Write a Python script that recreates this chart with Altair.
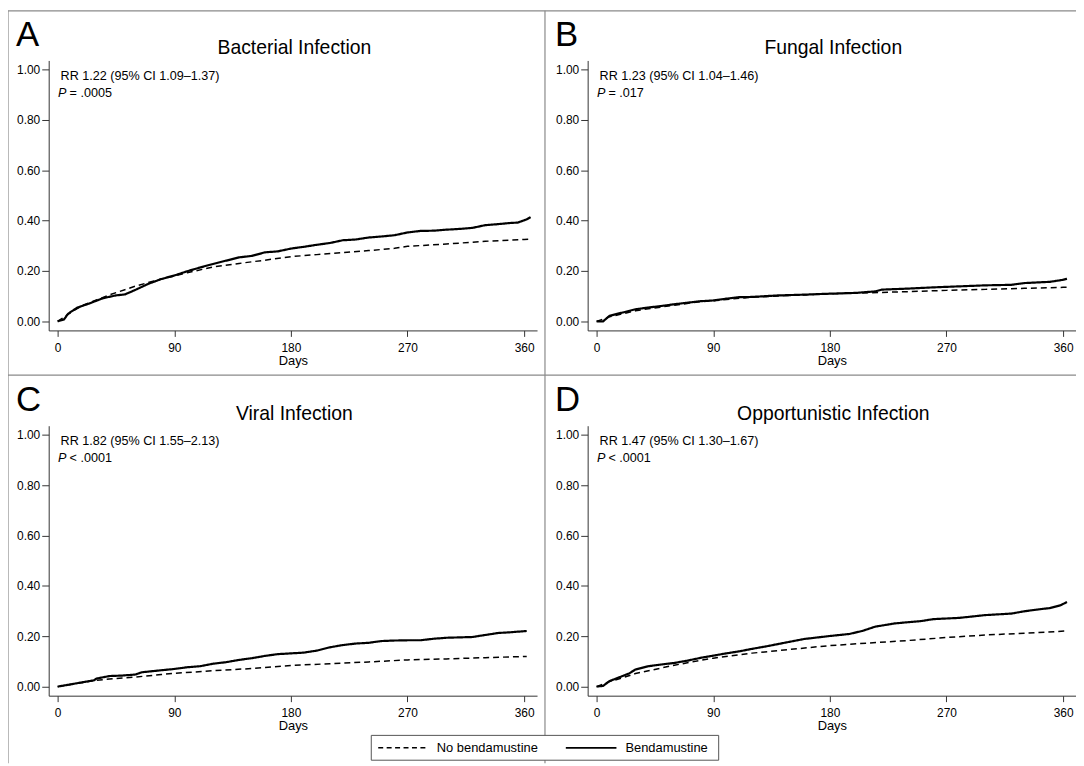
import altair as alt
import pandas as pd

FONT = "Liberation Sans"

# ---------------- data ----------------
panels = ["A", "B", "C", "D"]
letters = ["A", "B", "C", "D"]
titles = ["Bacterial Infection", "Fungal Infection", "Viral Infection", "Opportunistic Infection"]
rr_texts = ["RR 1.22 (95% CI 1.09\u20131.37)", "RR 1.23 (95% CI 1.04\u20131.46)",
            "RR 1.82 (95% CI 1.55\u20132.13)", "RR 1.47 (95% CI 1.30\u20131.67)"]
p_texts = ["= .0005", "= .017", "< .0001", "< .0001"]
groups = ["No bendamustine", "Bendamustine"]

# Bacterial
A_bend_days = [0, 5, 8, 15, 25, 35, 45, 52, 60, 70, 80, 90, 100, 110, 120, 130, 140, 150, 160, 170, 180,
               190, 200, 210, 220, 230, 240, 250, 260, 270, 280, 290, 300, 310, 320, 330, 340, 350, 355, 362, 365]
A_bend_vals = [0, 0.008, 0.03, 0.054, 0.072, 0.092, 0.103, 0.107, 0.125, 0.149, 0.168, 0.182, 0.199, 0.214,
               0.228, 0.241, 0.254, 0.26, 0.274, 0.278, 0.289, 0.296, 0.304, 0.311, 0.322, 0.325, 0.333,
               0.337, 0.342, 0.353, 0.359, 0.36, 0.364, 0.367, 0.371, 0.382, 0.386, 0.391, 0.392, 0.405, 0.414]
A_nob_days = [0, 10, 20, 30, 40, 60, 80, 90, 100, 120, 140, 160, 180, 200, 220, 240, 260, 270, 300, 330, 360, 365]
A_nob_vals = [0, 0.035, 0.065, 0.085, 0.105, 0.14, 0.168, 0.18, 0.193, 0.216, 0.23, 0.243, 0.257, 0.265,
              0.273, 0.281, 0.29, 0.298, 0.307, 0.318, 0.325, 0.327]

# Fungal
B_bend_days = [0, 5, 10, 20, 30, 40, 50, 60, 70, 80, 90, 100, 110, 120, 140, 160, 180, 200, 215, 220, 240,
               260, 280, 300, 320, 330, 350, 360, 363]
B_bend_vals = [0, 0.0, 0.022, 0.035, 0.048, 0.055, 0.061, 0.068, 0.074, 0.08, 0.083, 0.09, 0.096, 0.097,
               0.103, 0.106, 0.11, 0.113, 0.119, 0.126, 0.13, 0.135, 0.139, 0.143, 0.145, 0.152, 0.157,
               0.165, 0.169]
B_nob_days = [0, 10, 20, 30, 40, 60, 80, 90, 120, 150, 180, 200, 220, 240, 270, 300, 330, 360, 365]
B_nob_vals = [0, 0.018, 0.03, 0.042, 0.05, 0.064, 0.078, 0.082, 0.096, 0.103, 0.109, 0.112, 0.115, 0.118,
              0.123, 0.127, 0.131, 0.135, 0.136]

# Viral
C_bend_days = [0, 10, 20, 28, 30, 40, 50, 60, 65, 80, 90, 100, 110, 120, 130, 140, 150, 160, 170, 180, 190,
               200, 210, 220, 230, 240, 250, 260, 270, 280, 290, 300, 320, 330, 340, 350, 362]
C_bend_vals = [0, 0.009, 0.018, 0.025, 0.032, 0.042, 0.044, 0.048, 0.057, 0.065, 0.07, 0.077, 0.081,
               0.091, 0.097, 0.106, 0.113, 0.122, 0.129, 0.132, 0.135, 0.143, 0.156, 0.165, 0.171, 0.174,
               0.181, 0.183, 0.184, 0.184, 0.19, 0.194, 0.197, 0.205, 0.213, 0.216, 0.221]
C_nob_days = [0, 20, 30, 40, 60, 80, 90, 120, 150, 180, 210, 240, 270, 300, 330, 362]
C_nob_vals = [0, 0.017, 0.025, 0.03, 0.038, 0.048, 0.053, 0.063, 0.072, 0.084, 0.091, 0.098, 0.106, 0.11,
              0.115, 0.12]

# Opportunistic
D_bend_days = [0, 5, 10, 20, 25, 30, 40, 50, 60, 70, 80, 90, 100, 110, 120, 130, 140, 150, 160, 170, 180,
               195, 205, 215, 230, 250, 260, 280, 300, 320, 330, 340, 350, 358, 363]
D_bend_vals = [0, 0.003, 0.022, 0.042, 0.052, 0.068, 0.081, 0.088, 0.094, 0.103, 0.114, 0.123, 0.132,
               0.14, 0.15, 0.159, 0.169, 0.179, 0.189, 0.195, 0.201, 0.209, 0.221, 0.238, 0.251, 0.26,
               0.268, 0.273, 0.284, 0.29, 0.299, 0.306, 0.312, 0.323, 0.336]
D_nob_days = [0, 10, 20, 30, 40, 60, 80, 90, 120, 150, 180, 210, 240, 270, 300, 330, 363]
D_nob_vals = [0, 0.02, 0.035, 0.052, 0.063, 0.085, 0.104, 0.113, 0.133, 0.148, 0.163, 0.173, 0.183, 0.195,
              0.205, 0.212, 0.221]

x_ticks = [0, 90, 180, 270, 360]
y_ticks = [0.0, 0.2, 0.4, 0.6, 0.8, 1.0]

series = {
    "A": (A_nob_days, A_nob_vals, A_bend_days, A_bend_vals),
    "B": (B_nob_days, B_nob_vals, B_bend_days, B_bend_vals),
    "C": (C_nob_days, C_nob_vals, C_bend_days, C_bend_vals),
    "D": (D_nob_days, D_nob_vals, D_bend_days, D_bend_vals),
}
rows = []
for key, (nd, nv, bd, bv) in series.items():
    for d, v in zip(nd, nv):
        rows.append({"panel": key, "group": groups[0], "day": d, "value": v})
    for d, v in zip(bd, bv):
        rows.append({"panel": key, "group": groups[1], "day": d, "value": v})
df = pd.DataFrame(rows)

# ---------------- layout ----------------
W = 492
H = 272
XMIN = -6.9
PX_PER_DAY = 494 / (371.5 + 6.9)
XMAX = XMIN + W / PX_PER_DAY
YDOM = [-0.036, 1.036]
GRAY = "#8a8a8a"
DASH = [6, 4]

one = pd.DataFrame({"k": [0]})


def rule(x, y, x2=None, y2=None, color=GRAY, width=1.2, dash=None):
    enc = {"x": alt.value(x), "y": alt.value(y)}
    if x2 is not None:
        enc["x2"] = alt.value(x2)
    if y2 is not None:
        enc["y2"] = alt.value(y2)
    kw = dict(color=color, strokeWidth=width)
    if dash:
        kw["strokeDash"] = dash
    return alt.Chart(one).mark_rule(**kw).encode(**enc)


def text(t, x, y, size=12, align="left", style="normal"):
    return alt.Chart(pd.DataFrame({"t": [t]})).mark_text(
        font=FONT, fontSize=size, fontStyle=style, align=align, baseline="alphabetic",
        color="black").encode(text="t:N", x=alt.value(x), y=alt.value(y))


def panel(i, extra=None, after=None):
    key = panels[i]
    x = alt.X("day:Q", scale=alt.Scale(domain=[XMIN, XMAX], nice=False, zero=False),
              axis=alt.Axis(values=x_ticks, title="Days", format="d", labelPadding=6,
                            titlePadding=1, tickSize=6))
    y = alt.Y("value:Q", scale=alt.Scale(domain=YDOM, nice=False, zero=False),
              axis=alt.Axis(values=y_ticks, title=None, format=".2f", tickSize=7, labelPadding=2))
    lines = alt.Chart(df).transform_filter(alt.datum.panel == key).mark_line(
        color="black", strokeJoin="round").encode(
        x=x, y=y,
        strokeDash=alt.StrokeDash("group:N", scale=alt.Scale(domain=groups, range=[DASH, [1, 0]]),
                                  legend=None),
        strokeWidth=alt.StrokeWidth("group:N", scale=alt.Scale(domain=groups, range=[1.5, 2.2]),
                                    legend=None),
        order="day:Q",
    )
    layers = [
        lines,
        text(letters[i], -33, -15, size=35),
        text(titles[i], W / 2 + 1.5, -6, size=19.5, align="center"),
        text(rr_texts[i], 12, 19.3, size=12.7),
        text("P", 9.5, 36.5, size=12.7, style="italic"),
        text(p_texts[i], 21, 36.5, size=12.7),
    ]
    if extra:
        layers = extra + layers
    if after:
        layers = layers + after
    return alt.layer(*layers).properties(width=W, height=H)


# borders / dividers (relative to panel A and C plot origins)
dividers_top = [
    rule(-41, -50, y2=317),            # left border
    rule(-41, -50, x2=1040),           # top border
    rule(500, -50, y2=317),            # vertical divider
    rule(-41, 317, x2=1040),           # horizontal divider
]
dividers_bottom = [
    rule(-41, -51, y2=340),
    rule(500, -51, y2=340),
]
# key box below panel C / D (relative to panel C plot origin)
legend_box = alt.Chart(one).mark_rect(fill="white", stroke="#555", strokeWidth=1).encode(
    x=alt.value(325), x2=alt.value(675), y=alt.value(312), y2=alt.value(337))
key_items = [
    legend_box,
    rule(332, 324.5, x2=381, color="black", width=1.5, dash=[5, 3.5]),
    text(groups[0], 391, 329, size=13),
    rule(521, 324.5, x2=572, color="black", width=1.8),
    text(groups[1], 581, 329, size=13),
]

pA = panel(0, dividers_top)
pB = panel(1)
pC = panel(2, dividers_bottom, key_items)
pD = panel(3)

chart = alt.concat(pA, pB, pC, pD, columns=2, bounds="flush",
                   spacing=alt.RowColnumber(row=96, column=51)).properties(
    autosize=alt.AutoSizeParams(type="none"),
    padding={"left": 41, "top": 50, "right": 1035, "bottom": 708},
).configure_view(stroke=None).configure_axis(
    grid=False, labelFont=FONT, labelFontSize=12, labelColor="black",
    titleFont=FONT, titleFontSize=13, titleFontWeight="normal", titleColor="black",
    domainColor="#333", tickColor="#333", domainWidth=1, tickWidth=1,
)

chart.save("out.html", embed_options={"renderer": "svg", "actions": False})
